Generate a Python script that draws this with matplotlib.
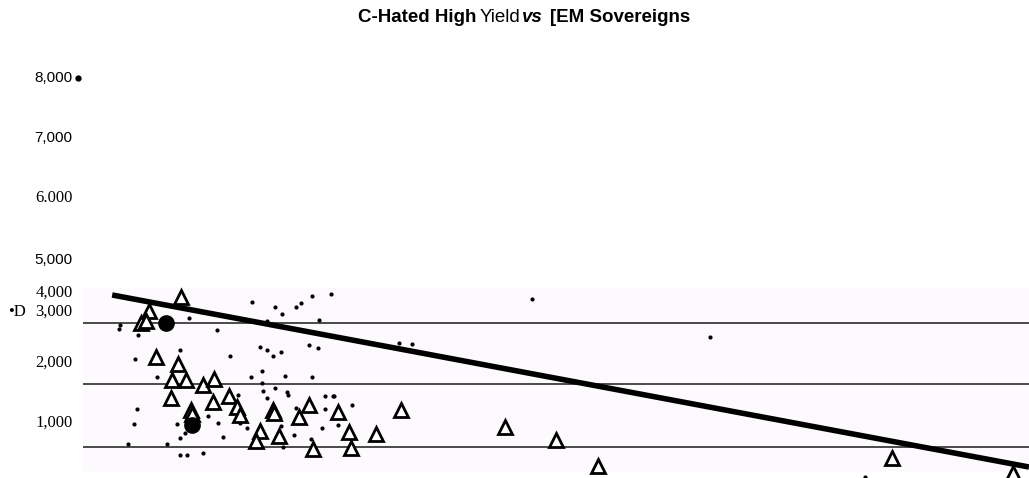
import matplotlib
matplotlib.use("Agg")
import matplotlib.pyplot as plt
import matplotlib.transforms as mtransforms
from matplotlib.patches import Rectangle

# title pieces (text, weight, style)
title_parts = [("C-Hated High", "bold", "normal"),
               ("Yield", "normal", "normal"),
               ("vs", "bold", "italic"),
               ("[EM Sovereigns", "bold", "normal")]
title_x = [358, 480, 522, 550]  # left edge of each piece, px

# y labels as printed on the scan, and where they sit
ytick_labels = ["8,000", "7,000", "6.000", "5,000", "4,000", "3,000", "2,000", "1,000"]
ytick_pos = [6695, 5690, 4686, 3648, 3096, 2778, 1925, 920]
ytick_font = ["Liberation Sans", "Liberation Sans", "Liberation Serif", "Liberation Sans",
              "Liberation Serif", "Liberation Serif", "Liberation Serif", "Liberation Serif"]

grid_levels = [2594, 1573, 519]

# fitted line
fit_x = [10.9, 100.0]
fit_y = [3063, 184]

# triangles (high yield)
tri_x = [17.6, 14.5, 13.7, 14.2, 15.2, 17.3, 16.7, 18.1, 19.7, 20.8, 16.6, 20.7, 22.3,
         18.6, 18.7, 23.0, 23.3, 25.3, 24.9, 26.5, 26.6, 27.1, 29.1, 30.0, 32.8, 33.9,
         34.1, 30.4, 36.5, 39.0, 49.1, 54.0, 58.1, 86.7, 98.4]
tri_y = [3029, 2795, 2594, 2628, 2025, 1908, 1640, 1640, 1556, 1657, 1339, 1272, 1372,
         1138, 1071, 1188, 1054, 787, 619, 1138, 1088, 703, 1021, 1222, 1105, 770,
         502, 485, 736, 1138, 854, 636, 201, 335, 84]

# filled circles
circ_x = [16.1, 18.7]
circ_y = [2594, 887]

# small dots
dot_x = [11.6, 13.1, 15.3, 13.3, 13.0, 12.4, 13.4, 16.2, 17.5, 18.4, 21.1, 22.4, 17.5,
         18.0, 17.2, 20.2, 21.2, 21.7, 23.1, 23.3, 24.0, 24.5, 24.4, 25.3, 25.5, 25.9,
         26.5, 27.3, 26.7, 27.4, 28.8, 29.3, 30.3, 32.2, 30.9, 30.0, 25.9, 25.5, 25.6,
         25.9, 26.7, 27.7, 27.9, 28.0, 30.3, 31.6, 32.5, 28.8, 31.6, 31.3, 32.8, 27.3,
         28.6, 30.2, 27.5, 19.7, 18.2, 17.5, 31.0, 32.4, 34.2, 38.8, 40.0, 51.7, 69.0,
         84.1, 11.7]
dot_y = [2494, 1992, 1690, 1155, 904, 569, 2393, 569, 2142, 2678, 2477, 2042, 669,
         753, 904, 1038, 920, 686, 1389, 920, 837, 2946, 1690, 2192, 1791, 2142,
         2042, 2109, 2862, 2745, 2862, 2929, 3046, 3079, 2176, 2226, 2628, 1590, 1456,
         1339, 1506, 1707, 1439, 1389, 1690, 1372, 1372, 1172, 1155, 837, 887, 870,
         720, 653, 519, 418, 385, 385, 2644, 1372, 1222, 2259, 2243, 2996, 2360,
         17, 2561]

outlier_x = [7.6]
outlier_y = [6695]

fig = plt.figure(figsize=(10.29, 4.78), dpi=100)
ax = fig.add_axes([0, 0, 1, 1])
ax.set_xlim(0, 100)
ax.set_ylim(0, 8000)
ax.axis("off")

ax.add_patch(Rectangle((8.1, 134), 100 - 8.1, 3180 - 134, color="#fdfafd", zorder=0))
ax.hlines(grid_levels, 8.1, 100, color="#1a1a1a", lw=1.1, zorder=1)
ax.plot(fit_x, fit_y, color="black", lw=4, solid_capstyle="butt", zorder=2)

ax.plot(dot_x, dot_y, ls="none", marker="o", ms=2, color="black", zorder=3)
ax.plot(outlier_x, outlier_y, ls="none", marker="o", ms=3.5, color="black", zorder=3)
ax.plot(tri_x, tri_y, ls="none", marker="^", ms=10, mfc="white", mec="black",
        mew=2, zorder=4, clip_on=False)
ax.plot(circ_x, circ_y, ls="none", marker="o", ms=11, color="black", zorder=4)

# y labels
trans = mtransforms.blended_transform_factory(fig.transFigure, ax.transData)
for lab, pos, fam in zip(ytick_labels, ytick_pos, ytick_font):
    fs = 11 if fam == "Liberation Sans" else 12
    ax.text(72.5 / 1029, pos, lab, transform=trans, ha="right", va="center",
            fontsize=fs, family=fam)
ax.text(8 / 1029, 2778, "\u2022D", transform=trans, ha="left", va="center",
        fontsize=12, family="Liberation Serif")

# title in pieces
for (txt, w, st), x0 in zip(title_parts, title_x):
    fig.text(x0 / 1029, 1 - 17 / 478, txt, ha="left", va="center", fontsize=13.5,
             weight=w, style=st, family="Liberation Sans")

fig.savefig("out.png", dpi=100)
